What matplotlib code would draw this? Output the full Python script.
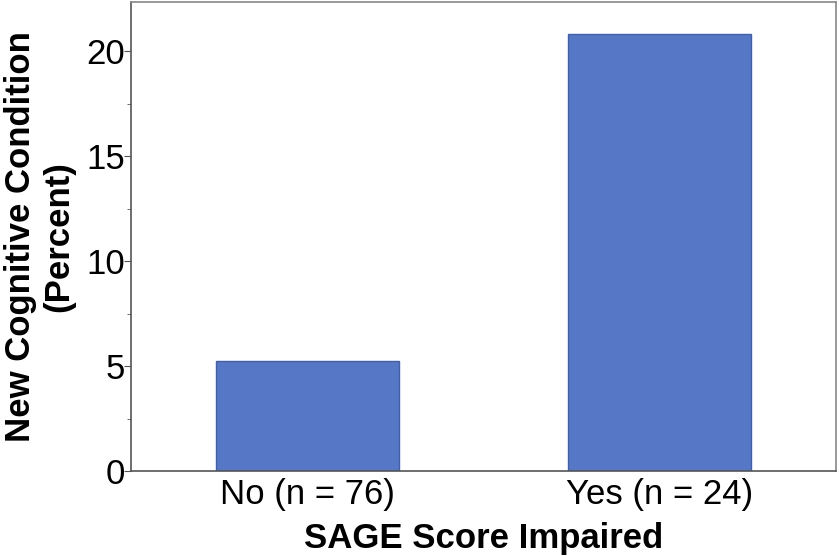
import numpy as np
import matplotlib.pyplot as plt
from matplotlib.ticker import MultipleLocator

categories = ["No (n = 76)", "Yes (n = 24)"]
percent = [5.26, 20.83]

plt.rcParams['font.family'] = ['Liberation Sans', 'DejaVu Sans']

fig = plt.figure(figsize=(8.39, 5.56), dpi=100)
ax = fig.add_axes([131/839, 1 - 471/556, 705/839, 469/556])

x = np.arange(len(categories))
ax.bar(x, percent, width=0.52, color="#5677c5", edgecolor="#3f5fb0", linewidth=1)

ax.set_xlim(-0.5, 1.5)
ax.set_ylim(0, 22.35)
ax.set_xticks(x)
ax.set_xticklabels(categories)
ax.yaxis.set_major_locator(MultipleLocator(5))
ax.yaxis.set_minor_locator(MultipleLocator(2.5))

ax.tick_params(axis='y', which='major', labelsize=25, length=5, color="#555555", pad=-1)
ax.tick_params(axis='y', which='minor', length=3, color="#555555")
ax.tick_params(axis='x', labelsize=25, length=0, pad=5)

for s in ax.spines.values():
    s.set_color("#888888")
    s.set_linewidth(1.2)
ax.spines['left'].set_color("#555555")
ax.spines['bottom'].set_color("#555555")

ax.set_xlabel("SAGE Score Impaired", fontsize=25, fontweight='bold', labelpad=8)
ax.set_ylabel("New Cognitive Condition\n(Percent)", fontsize=25, fontweight='bold',
              labelpad=8)

fig.savefig("out.png", dpi=100)
